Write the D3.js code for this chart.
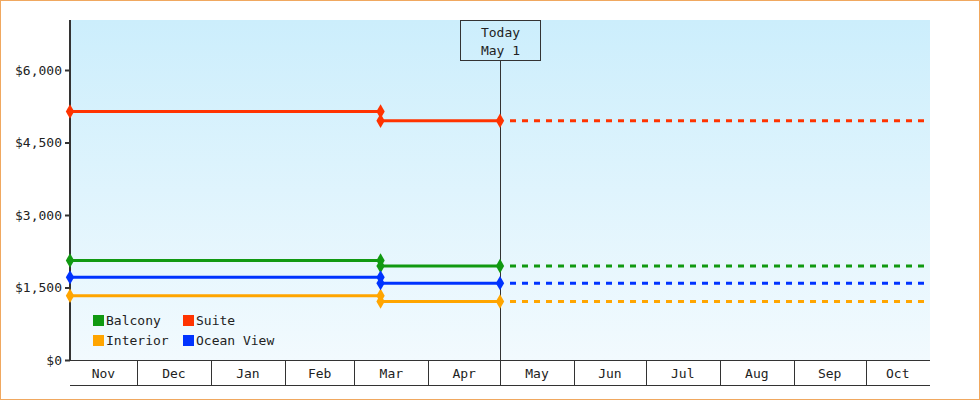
<!DOCTYPE html>
<html><head><meta charset="utf-8">
<script src="https://cdn.jsdelivr.net/npm/d3@7"></script>
<style>body{margin:0;background:#fff}text{font-family:"DejaVu Sans Mono",monospace;font-size:13px;fill:#222}</style>
</head><body>
<svg id="c" width="980" height="400"></svg>
<script>
const seriesNames = ["Balcony","Suite","Interior","Ocean View"];
const seriesColors = ["#119911","#ff3300","#ffa500","#0033ff"];
const oldPrices = [2060, 5140, 1330, 1710];
const newPrices = [1945, 4950, 1210, 1590];
const dates = ["2023-11-03","2024-03-12","2024-05-01","2024-10-28"];
const yTicks = [0,1500,3000,4500,6000];
const monthLabels = ["Nov","Dec","Jan","Feb","Mar","Apr","May","Jun","Jul","Aug","Sep","Oct"];

const svg = d3.select("#c");
const P = d3.timeParse("%Y-%m-%d");
const L=70,R=930,T=20,B=360;
const x = d3.scaleTime().domain([P(dates[0]),P(dates[3])]).range([L,R]);
const y = d3.scaleLinear().domain([0,6000]).range([B,70]);

svg.append("rect").attr("x",0.5).attr("y",0.5).attr("width",979).attr("height",399).attr("fill","#fff").attr("stroke","#f0a860");
const g = svg.append("defs").append("linearGradient").attr("id","bg").attr("x1",0).attr("x2",0).attr("y1",0).attr("y2",1);
g.append("stop").attr("offset",0).attr("stop-color","#cceefc");
g.append("stop").attr("offset",1).attr("stop-color","#f2fafe");
svg.append("rect").attr("x",L).attr("y",T).attr("width",R-L).attr("height",B-T).attr("fill","url(#bg)");

// y axis
const ya = svg.append("g").attr("transform",`translate(${L},0)`).call(d3.axisLeft(y).tickValues(yTicks).tickFormat(d=>"$"+d3.format(",")(d)).tickSize(5));
ya.select(".domain").remove();
ya.selectAll("line").attr("stroke","#333").attr("stroke-width",2);
ya.selectAll("text").style("font-family","DejaVu Sans Mono").style("font-size","13px").attr("fill","#333");
svg.append("line").attr("x1",L).attr("x2",L).attr("y1",T).attr("y2",B).attr("stroke","#333").attr("stroke-width",2);

// month cells
const ms = d3.timeMonth.range(d3.timeMonth.floor(P(dates[0])), P(dates[3]));
const bounds = ms.map((m,i)=>[Math.max(L,x(m)), Math.min(R,x(d3.timeMonth.offset(m,1)))]);
svg.append("line").attr("x1",L).attr("x2",R).attr("y1",B+0.5).attr("y2",B+0.5).attr("stroke","#333");
svg.append("line").attr("x1",L).attr("x2",R).attr("y1",385.5).attr("y2",385.5).attr("stroke","#333");
bounds.forEach((b,i)=>{
  if(i>0) svg.append("line").attr("x1",Math.round(b[0])+0.5).attr("x2",Math.round(b[0])+0.5).attr("y1",B).attr("y2",385).attr("stroke","#333");
  svg.append("text").attr("x",(b[0]+b[1])/2).attr("y",378).attr("text-anchor","middle").text(monthLabels[i]);
});

// today
const tx = Math.round(x(P(dates[2])))+0.5;
svg.append("line").attr("x1",tx).attr("x2",tx).attr("y1",60).attr("y2",B).attr("stroke","#333");
svg.append("rect").attr("x",tx-40).attr("y",20.5).attr("width",80).attr("height",40).attr("fill","none").attr("stroke","#333");
svg.append("text").attr("x",tx).attr("y",37).attr("text-anchor","middle").text("Today");
svg.append("text").attr("x",tx).attr("y",55).attr("text-anchor","middle").text("May 1");

const diamond = d3.symbol().type(d3.symbolDiamond).size(60);
seriesNames.forEach((n,i)=>{
  const c = seriesColors[i];
  const d0=x(P(dates[0])), d1=x(P(dates[1])), d2=x(P(dates[2])), d3x=x(P(dates[3]));
  svg.append("line").attr("x1",d0).attr("x2",d1).attr("y1",y(oldPrices[i])).attr("y2",y(oldPrices[i])).attr("stroke",c).attr("stroke-width",3);
  svg.append("line").attr("x1",d1).attr("x2",d2).attr("y1",y(newPrices[i])).attr("y2",y(newPrices[i])).attr("stroke",c).attr("stroke-width",3);
  svg.append("line").attr("x1",d2+10).attr("x2",d3x).attr("y1",y(newPrices[i])).attr("y2",y(newPrices[i])).attr("stroke",c).attr("stroke-width",3).attr("stroke-dasharray","6,6");
  [[d0,oldPrices[i]],[d1,oldPrices[i]],[d1,newPrices[i]],[d2,newPrices[i]]].forEach(p=>
    svg.append("path").attr("d",diamond).attr("transform",`translate(${p[0]},${y(p[1])})`).attr("fill",c));
});

// legend
[[0,93,320],[1,183,320],[2,93,340],[3,183,340]].forEach(([i,lx,ly])=>{
  svg.append("rect").attr("x",lx).attr("y",ly-5).attr("width",11).attr("height",11).attr("fill",seriesColors[i]);
  svg.append("text").attr("x",lx+13).attr("y",ly+5).attr("fill","#333").text(seriesNames[i]);
});
</script></body></html>
